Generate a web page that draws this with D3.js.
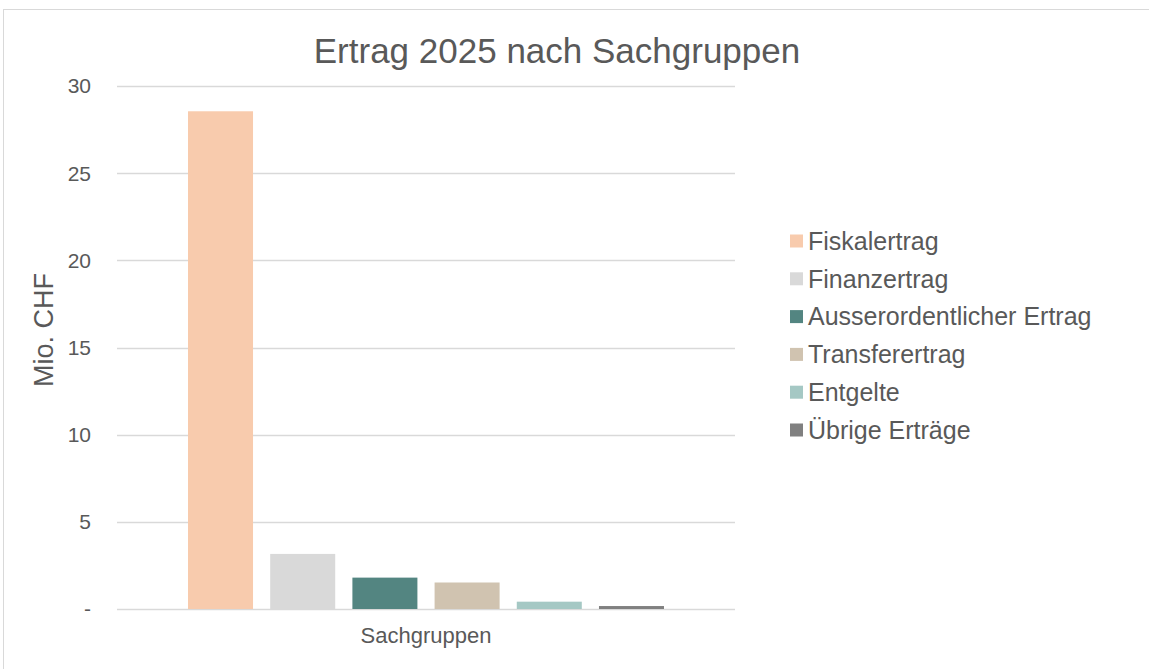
<!DOCTYPE html>
<html><head><meta charset="utf-8">
<script src="https://cdn.jsdelivr.net/npm/d3@7"></script>
<style>body{margin:0;background:#fff}text{font-family:"Liberation Sans",Arial,sans-serif}</style>
</head><body><svg id="c" width="1149" height="669"></svg>
<script>
const series = ["Fiskalertrag","Finanzertrag","Ausserordentlicher Ertrag","Transferertrag","Entgelte","Übrige Erträge"];
const values = [28.55, 3.16, 1.8, 1.52, 0.42, 0.17];
const colors = ["#f8cbad","#d9d9d9","#538581","#d0c3b0","#a5c8c4","#808080"];
const yTicks = [0,5,10,15,20,25,30];
const yTickLabels = ["-","5","10","15","20","25","30"];
const title = "Ertrag 2025 nach Sachgruppen";
const yTitle = "Mio. CHF";
const xTitle = "Sachgruppen";

const svg = d3.select("#c");
svg.append("rect").attr("x",3.5).attr("y",9.5).attr("width",1150).attr("height",700)
  .attr("fill","#fff").attr("stroke","#d9d9d9").attr("stroke-width",1);

const L=117,R=735,T=86,B=609;
const y = d3.scaleLinear().domain([0,30]).range([B,T]);
const x = d3.scaleBand().domain(series).range([L,R]).paddingInner(0.209).paddingOuter(0.864);

svg.append("g").selectAll("line").data(yTicks).join("line")
  .attr("x1",L).attr("x2",R).attr("y1",d=>Math.round(y(d))+0.5).attr("y2",d=>Math.round(y(d))+0.5)
  .attr("stroke","#d9d9d9").attr("stroke-width",1.3);

svg.append("g").selectAll("text").data(yTicks).join("text")
  .attr("x",91).attr("y",d=>y(d)).attr("dy","0.35em").attr("text-anchor","end")
  .attr("font-size",21).attr("fill","#595959").text((d,i)=>yTickLabels[i]);

svg.append("g").selectAll("rect").data(series).join("rect")
  .attr("x",d=>x(d)).attr("width",x.bandwidth())
  .attr("y",(d,i)=>y(values[i])).attr("height",(d,i)=>y(0)-y(values[i]))
  .attr("fill",(d,i)=>colors[i]);

svg.append("text").attr("x",557).attr("y",63).attr("text-anchor","middle")
  .attr("font-size",35).attr("fill","#595959").text(title);

svg.append("text").attr("transform","translate(53,330) rotate(-90)")
  .attr("text-anchor","middle").attr("font-size",27).attr("fill","#595959").text(yTitle);
svg.append("text").attr("x",(L+R)/2).attr("y",643).attr("text-anchor","middle")
  .attr("font-size",22).attr("fill","#595959").text(xTitle);

const lg = svg.append("g").selectAll("g").data(series).join("g")
  .attr("transform",(d,i)=>"translate(790,"+(241+i*37.8)+")");
lg.append("rect").attr("x",0).attr("y",-6.5).attr("width",13).attr("height",13)
  .attr("fill",(d,i)=>colors[i]);
lg.append("text").attr("x",18).attr("y",0).attr("dy","0.35em")
  .attr("font-size",25).attr("fill","#595959").text(d=>d);
</script></body></html>
